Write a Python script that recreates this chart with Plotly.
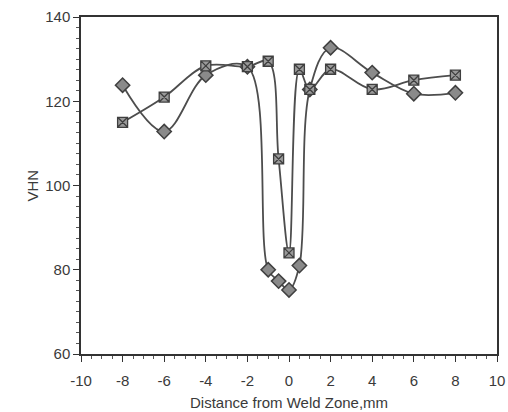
import plotly.graph_objects as go

distance = [-8, -6, -4, -2, -1, -0.5, 0, 0.5, 1, 2, 4, 6, 8]
vhn_diamond = [123.8, 112.8, 126.2, 128.2, 80.0, 77.3, 75.2, 81.0, 122.8, 132.7, 126.8, 121.8, 122.0]
vhn_square = [115.0, 121.0, 128.4, 128.2, 129.5, 106.3, 84.0, 127.6, 122.8, 127.6, 122.8, 125.0, 126.2]

x_ticks = [-10, -8, -6, -4, -2, 0, 2, 4, 6, 8, 10]
y_ticks = [60, 80, 100, 120, 140]

line_col = "#4d4d4d"
font = dict(family="Liberation Sans, Arial, sans-serif", size=15, color="#3a3a3a")

fig = go.Figure()
fig.add_trace(go.Scatter(
    x=distance, y=vhn_diamond, mode="lines+markers",
    line=dict(color=line_col, width=1.8, shape="spline", smoothing=1),
    marker=dict(symbol="diamond", size=11, color="#8a8a8a",
                line=dict(color="#3f3f3f", width=1.5)),
    showlegend=False,
))
fig.add_trace(go.Scatter(
    x=distance, y=vhn_square, mode="lines+markers",
    line=dict(color=line_col, width=1.8, shape="spline", smoothing=1),
    marker=dict(symbol="square-x", size=10, color="#9a9a9a",
                line=dict(color="#3f3f3f", width=1.3)),
    showlegend=False,
))

fig.update_layout(
    width=508, height=412,
    margin=dict(l=81, r=11, t=17, b=58),
    paper_bgcolor="white", plot_bgcolor="white",
    font=font,
    xaxis=dict(
        range=[-10, 10], tickvals=x_ticks, ticktext=[str(v) for v in x_ticks],
        showgrid=False, zeroline=False, showline=True, linecolor="#333", linewidth=1.5,
        mirror=True, ticks="outside", ticklen=6, tickcolor="#333", tickwidth=1.3,
        minor=dict(dtick=0.5, ticks="outside", ticklen=3, tickcolor="#555", showgrid=False),
        automargin=False, ticklabelstandoff=6, tickfont=font,
    ),
    yaxis=dict(
        range=[60, 140], tickvals=y_ticks, ticktext=[str(v) for v in y_ticks],
        showgrid=False, zeroline=False, showline=True, linecolor="#333", linewidth=1.5,
        mirror=True, ticks="outside", ticklen=6, tickcolor="#333", tickwidth=1.3,
        minor=dict(dtick=2.5, ticks="outside", ticklen=3, tickcolor="#555", showgrid=False),
        automargin=False, tickfont=font,
    ),
    annotations=[
        dict(text="Distance from Weld Zone,mm", x=0.5, y=0, xref="paper", yref="paper",
             xanchor="center", yanchor="middle", yshift=-48, showarrow=False, font=font),
        dict(text="VHN", x=0, y=0.5, xref="paper", yref="paper", textangle=-90,
             xanchor="center", yanchor="middle", xshift=-49, showarrow=False, font=font),
    ],
)

fig.write_html(
    "out.html",
    config={"displayModeBar": False},
    post_script="document.body.style.margin='0';document.body.style.overflow='hidden';",
)
